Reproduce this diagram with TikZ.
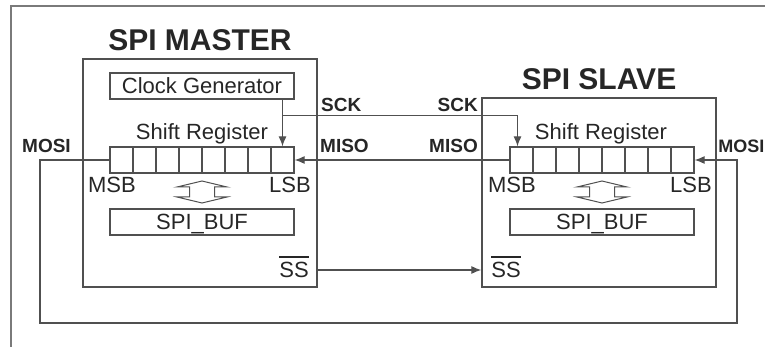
\documentclass[tikz,border=0pt]{standalone}
\usepackage{fontspec}
\setmainfont{Liberation Sans}
\usepackage{tikz}
\usetikzlibrary{positioning,arrows.meta,calc}
\usepackage{xcolor}
\definecolor{wiregray}{HTML}{505050}
\definecolor{inkgray}{HTML}{262626}
\definecolor{framegray}{HTML}{7A7A7A}
\tikzset{
  unit/.style={rectangle,draw=wiregray,line width=1.3pt,inner sep=0pt},
  cell/.style={rectangle,draw=wiregray,line width=1.2pt,minimum width=23pt,minimum height=26pt,inner sep=0pt},
  lbl/.style={text=inkgray,font=\fontsize{22}{22}\selectfont,inner sep=0pt},
  sig/.style={text=inkgray,font=\fontsize{19}{19}\selectfont\bfseries,inner sep=0pt},
  ttl/.style={text=inkgray,font=\fontsize{30}{30}\selectfont\bfseries,inner sep=0pt},
  wire/.style={draw=wiregray,line width=1.2pt},
  edge/.style={wire,-{Latex[length=10pt,width=8pt]}},
  bar/.style={draw=inkgray,line width=2pt},
  xfer/.style={draw=wiregray,line width=1pt,line join=miter}
}
\begin{document}
\begin{tikzpicture}[x=1pt,y=-1pt]
\useasboundingbox (0,0) rectangle (765,347);
\draw[framegray,line width=1.6pt] (11,347) -- (11,6) -- (765,6);
% master
\node[unit,minimum width=234pt,minimum height=228pt] (mbox) at (200,173) {};
\node[ttl,above=7pt of mbox] (mtitle) {SPI MASTER};
\node[unit,lbl,minimum width=184pt,minimum height=26pt] (clk) at (202,86) {Clock Generator};
\foreach \i in {1,...,8}
  \node[cell] (mreg\i) at (98.5+23*\i,160) {};
\node[lbl,anchor=base] (mshl) at (202,140) {Shift Register};
\node[lbl,anchor=base] (mmsb) at (112,193) {MSB};
\node[lbl,anchor=base] (mlsb) at (290,193) {LSB};
\node[unit,lbl,text depth=0pt,minimum width=184pt,minimum height=26pt] (mbuf) at (202,222) {SPI\_BUF};
\node[lbl,anchor=base] (mss) at (294,277) {SS};
\draw[bar] ([yshift=4pt]mss.north west) -- ([yshift=4pt]mss.north east);
% slave
\node[unit,minimum width=234pt,minimum height=189pt] (sbox) at (599,192.5) {};
\node[ttl,above=7pt of sbox] (stitle) {SPI SLAVE};
\foreach \i in {1,...,8}
  \node[cell] (sreg\i) at (498.5+23*\i,160) {};
\node[lbl,anchor=base] (sshl) at (601,140) {Shift Register};
\node[lbl,anchor=base] (smsb) at (512,193) {MSB};
\node[lbl,anchor=base] (slsb) at (691,193) {LSB};
\node[unit,lbl,text depth=0pt,minimum width=184pt,minimum height=26pt] (sbuf) at (602,222) {SPI\_BUF};
\node[lbl,anchor=base] (sss) at (506,277) {SS};
\draw[bar] ([yshift=4pt]sss.north west) -- ([yshift=4pt]sss.north east);
% transfer arrows
\foreach \cx in {202,602}
  \draw[xfer] (\cx,181) -- ++(25,6) -- ++(-12.5,0) -- ++(0,10) -- ++(12.5,0) -- ++(-25,6)
    -- ++(-25,-6) -- ++(12.5,0) -- ++(0,-10) -- ++(-12.5,0) -- cycle;
% signal names
\node[sig,anchor=base west] (msck) at (321,112) {SCK};
\node[sig,anchor=base west] (mmiso) at (320,153) {MISO};
\node[sig,anchor=base west] (mmosi) at (22,153) {MOSI};
\node[sig,anchor=base east] (ssck) at (478,112) {SCK};
\node[sig,anchor=base east] (smiso) at (478,153) {MISO};
\node[sig,font=\fontsize{18}{18}\selectfont\bfseries,anchor=base east] (smosi) at (764.5,153) {MOSI};
% wires
\coordinate (sckj) at ([yshift=-16pt]clk.south -| mreg8.north);
\coordinate (mosil) at (40,323);
\coordinate (mosir) at (737,323);
\draw[edge] (clk.south -| mreg8.north) -- (mreg8.north);
\draw[edge] (sckj) -| ([xshift=-4pt]sreg1.north);
\draw[edge] (sreg1.west) -- (mreg8.east);
\draw[edge] (mreg1.west) -| (mosil) -- (mosir) |- (sreg8.east);
\draw[edge] ([yshift=7pt]mss.base -| mbox.east) -- ([yshift=7pt]sss.base -| sbox.west);
\end{tikzpicture}
\end{document}
